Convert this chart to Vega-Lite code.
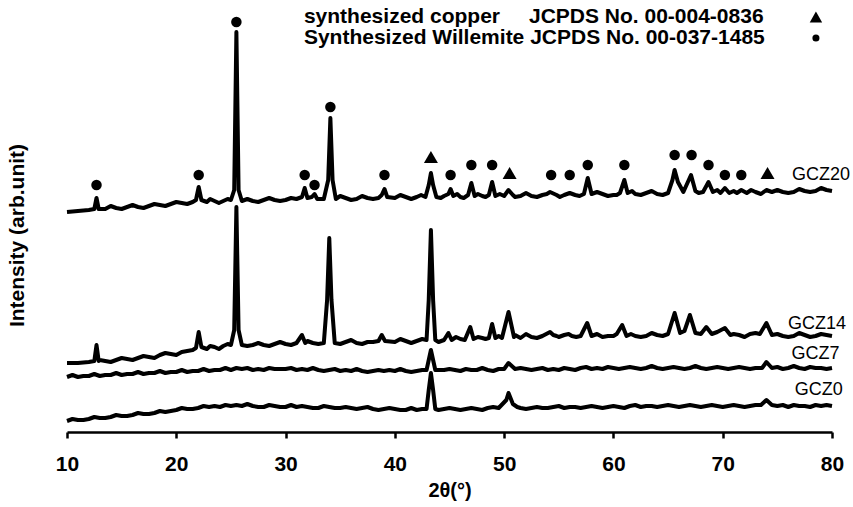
{
  "$schema": "https://vega.github.io/schema/vega-lite/v6.json",
  "width": 765,
  "height": 432,
  "autosize": "none",
  "padding": {"left": 67, "top": 0, "right": 21, "bottom": 75},
  "config": {"view": {"stroke": null}, "font": "Liberation Sans"},
  "datasets": {
    "xrd": [
      {"s":"GCZ20","x":10,"y":220},{"s":"GCZ20","x":11,"y":221},{"s":"GCZ20","x":12,"y":222},{"s":"GCZ20","x":12.5,"y":223},{"s":"GCZ20","x":12.7,"y":234},{"s":"GCZ20","x":12.9,"y":223},{"s":"GCZ20","x":13.5,"y":223},{"s":"GCZ20","x":14.5,"y":224},{"s":"GCZ20","x":15.5,"y":225},{"s":"GCZ20","x":16.5,"y":225},{"s":"GCZ20","x":17.5,"y":226},{"s":"GCZ20","x":18.5,"y":227},{"s":"GCZ20","x":19.5,"y":228},{"s":"GCZ20","x":20.5,"y":229},{"s":"GCZ20","x":21.5,"y":230},{"s":"GCZ20","x":21.8,"y":232},{"s":"GCZ20","x":22.05,"y":245},{"s":"GCZ20","x":22.3,"y":232},{"s":"GCZ20","x":22.8,"y":230},{"s":"GCZ20","x":23.5,"y":231},{"s":"GCZ20","x":24.3,"y":231},{"s":"GCZ20","x":25,"y":232},{"s":"GCZ20","x":25.3,"y":242},{"s":"GCZ20","x":25.5,"y":400},{"s":"GCZ20","x":25.7,"y":242},{"s":"GCZ20","x":26,"y":231},{"s":"GCZ20","x":27,"y":231},{"s":"GCZ20","x":28,"y":232},{"s":"GCZ20","x":29,"y":232},{"s":"GCZ20","x":30,"y":232},{"s":"GCZ20","x":31,"y":233},{"s":"GCZ20","x":31.5,"y":235},{"s":"GCZ20","x":31.75,"y":244},{"s":"GCZ20","x":32.0,"y":234},{"s":"GCZ20","x":32.4,"y":235},{"s":"GCZ20","x":32.65,"y":238},{"s":"GCZ20","x":32.9,"y":233},{"s":"GCZ20","x":33.5,"y":233},{"s":"GCZ20","x":33.9,"y":252},{"s":"GCZ20","x":34.1,"y":314},{"s":"GCZ20","x":34.3,"y":252},{"s":"GCZ20","x":34.6,"y":233},{"s":"GCZ20","x":35.5,"y":234},{"s":"GCZ20","x":36.5,"y":233},{"s":"GCZ20","x":37.5,"y":234},{"s":"GCZ20","x":38.5,"y":234},{"s":"GCZ20","x":38.8,"y":237},{"s":"GCZ20","x":39.05,"y":243},{"s":"GCZ20","x":39.3,"y":235},{"s":"GCZ20","x":40,"y":234},{"s":"GCZ20","x":41,"y":235},{"s":"GCZ20","x":42,"y":235},{"s":"GCZ20","x":42.8,"y":235},{"s":"GCZ20","x":43.1,"y":247},{"s":"GCZ20","x":43.3,"y":259},{"s":"GCZ20","x":43.5,"y":247},{"s":"GCZ20","x":43.8,"y":235},{"s":"GCZ20","x":44.5,"y":236},{"s":"GCZ20","x":44.9,"y":238},{"s":"GCZ20","x":45.1,"y":243},{"s":"GCZ20","x":45.35,"y":236},{"s":"GCZ20","x":46,"y":235},{"s":"GCZ20","x":46.7,"y":237},{"s":"GCZ20","x":47.0,"y":249},{"s":"GCZ20","x":47.3,"y":236},{"s":"GCZ20","x":48,"y":236},{"s":"GCZ20","x":48.6,"y":237},{"s":"GCZ20","x":48.9,"y":250},{"s":"GCZ20","x":49.2,"y":236},{"s":"GCZ20","x":50,"y":236},{"s":"GCZ20","x":50.4,"y":242},{"s":"GCZ20","x":50.8,"y":237},{"s":"GCZ20","x":51.5,"y":236},{"s":"GCZ20","x":52.5,"y":236},{"s":"GCZ20","x":53.5,"y":237},{"s":"GCZ20","x":54.2,"y":240},{"s":"GCZ20","x":54.8,"y":237},{"s":"GCZ20","x":55.5,"y":237},{"s":"GCZ20","x":56,"y":239},{"s":"GCZ20","x":56.5,"y":237},{"s":"GCZ20","x":57.3,"y":238},{"s":"GCZ20","x":57.65,"y":254},{"s":"GCZ20","x":58,"y":238},{"s":"GCZ20","x":59,"y":238},{"s":"GCZ20","x":60,"y":237},{"s":"GCZ20","x":60.6,"y":239},{"s":"GCZ20","x":61,"y":252},{"s":"GCZ20","x":61.3,"y":239},{"s":"GCZ20","x":62,"y":238},{"s":"GCZ20","x":63,"y":239},{"s":"GCZ20","x":64,"y":238},{"s":"GCZ20","x":65,"y":239},{"s":"GCZ20","x":65.4,"y":252},{"s":"GCZ20","x":65.6,"y":262},{"s":"GCZ20","x":65.9,"y":250},{"s":"GCZ20","x":66.4,"y":240},{"s":"GCZ20","x":67.1,"y":257},{"s":"GCZ20","x":67.5,"y":241},{"s":"GCZ20","x":68.2,"y":240},{"s":"GCZ20","x":68.7,"y":250},{"s":"GCZ20","x":69.1,"y":240},{"s":"GCZ20","x":69.8,"y":239},{"s":"GCZ20","x":70.2,"y":244},{"s":"GCZ20","x":70.6,"y":239},{"s":"GCZ20","x":71.3,"y":239},{"s":"GCZ20","x":71.7,"y":242},{"s":"GCZ20","x":72.2,"y":239},{"s":"GCZ20","x":73,"y":240},{"s":"GCZ20","x":74,"y":242},{"s":"GCZ20","x":74.5,"y":240},{"s":"GCZ20","x":75.5,"y":240},{"s":"GCZ20","x":76.5,"y":240},{"s":"GCZ20","x":77.5,"y":241},{"s":"GCZ20","x":78.5,"y":241},{"s":"GCZ20","x":79.5,"y":242},{"s":"GCZ20","x":80,"y":241},
      {"s":"GCZ20","x":14,"y":226},{"s":"GCZ20","x":15,"y":223},{"s":"GCZ20","x":16,"y":227},{"s":"GCZ20","x":17,"y":224},{"s":"GCZ20","x":18,"y":228},{"s":"GCZ20","x":19,"y":226},{"s":"GCZ20","x":20,"y":230},{"s":"GCZ20","x":21,"y":228},{"s":"GCZ20","x":23.1,"y":233},{"s":"GCZ20","x":23.9,"y":229},{"s":"GCZ20","x":24.7,"y":233},{"s":"GCZ20","x":26.5,"y":233},{"s":"GCZ20","x":27.5,"y":230},{"s":"GCZ20","x":28.5,"y":234},{"s":"GCZ20","x":29.5,"y":231},{"s":"GCZ20","x":30.5,"y":234},{"s":"GCZ20","x":35,"y":236},{"s":"GCZ20","x":36,"y":232},{"s":"GCZ20","x":37,"y":236},{"s":"GCZ20","x":38,"y":233},{"s":"GCZ20","x":40.5,"y":237},{"s":"GCZ20","x":41.5,"y":233},{"s":"GCZ20","x":42.4,"y":237},{"s":"GCZ20","x":44.2,"y":234},{"s":"GCZ20","x":45.7,"y":238},{"s":"GCZ20","x":46.3,"y":234},{"s":"GCZ20","x":47.6,"y":238},{"s":"GCZ20","x":48.3,"y":235},{"s":"GCZ20","x":49.6,"y":238},{"s":"GCZ20","x":51,"y":235},{"s":"GCZ20","x":52,"y":239},{"s":"GCZ20","x":53,"y":235},{"s":"GCZ20","x":53.9,"y":238},{"s":"GCZ20","x":55.1,"y":235},{"s":"GCZ20","x":56.9,"y":236},{"s":"GCZ20","x":58.5,"y":240},{"s":"GCZ20","x":59.5,"y":236},{"s":"GCZ20","x":60.3,"y":237},{"s":"GCZ20","x":61.7,"y":241},{"s":"GCZ20","x":62.5,"y":237},{"s":"GCZ20","x":63.5,"y":241},{"s":"GCZ20","x":64.5,"y":237},{"s":"GCZ20","x":67.8,"y":239},{"s":"GCZ20","x":69.5,"y":242},{"s":"GCZ20","x":71,"y":241},{"s":"GCZ20","x":72.6,"y":242},{"s":"GCZ20","x":73.5,"y":238},{"s":"GCZ20","x":75,"y":242},{"s":"GCZ20","x":76,"y":239},{"s":"GCZ20","x":77,"y":243},{"s":"GCZ20","x":78,"y":240},{"s":"GCZ20","x":79,"y":244},

      {"s":"GCZ14","x":10,"y":69},{"s":"GCZ14","x":11,"y":69},{"s":"GCZ14","x":12,"y":70},{"s":"GCZ14","x":12.5,"y":71},{"s":"GCZ14","x":12.7,"y":87},{"s":"GCZ14","x":12.9,"y":71},{"s":"GCZ14","x":13.5,"y":71},{"s":"GCZ14","x":14.5,"y":72},{"s":"GCZ14","x":15.5,"y":73},{"s":"GCZ14","x":16.5,"y":74},{"s":"GCZ14","x":17.5,"y":75},{"s":"GCZ14","x":18.5,"y":77},{"s":"GCZ14","x":19.5,"y":78},{"s":"GCZ14","x":20.5,"y":80},{"s":"GCZ14","x":21.5,"y":82},{"s":"GCZ14","x":21.8,"y":84},{"s":"GCZ14","x":22.05,"y":100},{"s":"GCZ14","x":22.3,"y":85},{"s":"GCZ14","x":22.8,"y":83},{"s":"GCZ14","x":23.5,"y":85},{"s":"GCZ14","x":24.3,"y":86},{"s":"GCZ14","x":25,"y":87},{"s":"GCZ14","x":25.3,"y":102},{"s":"GCZ14","x":25.5,"y":225},{"s":"GCZ14","x":25.7,"y":102},{"s":"GCZ14","x":26,"y":87},{"s":"GCZ14","x":27,"y":87},{"s":"GCZ14","x":28,"y":87},{"s":"GCZ14","x":29,"y":88},{"s":"GCZ14","x":30,"y":88},{"s":"GCZ14","x":31,"y":89},{"s":"GCZ14","x":31.5,"y":97},{"s":"GCZ14","x":31.8,"y":89},{"s":"GCZ14","x":32.5,"y":89},{"s":"GCZ14","x":33.5,"y":89},{"s":"GCZ14","x":33.8,"y":132},{"s":"GCZ14","x":34.0,"y":194},{"s":"GCZ14","x":34.2,"y":132},{"s":"GCZ14","x":34.5,"y":89},{"s":"GCZ14","x":35.5,"y":90},{"s":"GCZ14","x":36.5,"y":89},{"s":"GCZ14","x":37.5,"y":90},{"s":"GCZ14","x":38.5,"y":91},{"s":"GCZ14","x":38.8,"y":97},{"s":"GCZ14","x":39.1,"y":91},{"s":"GCZ14","x":40,"y":90},{"s":"GCZ14","x":41,"y":91},{"s":"GCZ14","x":42,"y":91},{"s":"GCZ14","x":42.9,"y":92},{"s":"GCZ14","x":43.1,"y":132},{"s":"GCZ14","x":43.3,"y":202},{"s":"GCZ14","x":43.5,"y":132},{"s":"GCZ14","x":43.7,"y":92},{"s":"GCZ14","x":44.5,"y":92},{"s":"GCZ14","x":44.9,"y":99},{"s":"GCZ14","x":45.2,"y":92},{"s":"GCZ14","x":46,"y":93},{"s":"GCZ14","x":46.9,"y":105},{"s":"GCZ14","x":47.2,"y":93},{"s":"GCZ14","x":48,"y":94},{"s":"GCZ14","x":48.6,"y":94},{"s":"GCZ14","x":48.9,"y":108},{"s":"GCZ14","x":49.2,"y":94},{"s":"GCZ14","x":49.8,"y":94},{"s":"GCZ14","x":50.4,"y":120},{"s":"GCZ14","x":50.9,"y":95},{"s":"GCZ14","x":51.5,"y":94},{"s":"GCZ14","x":52,"y":98},{"s":"GCZ14","x":52.5,"y":95},{"s":"GCZ14","x":53.5,"y":96},{"s":"GCZ14","x":54.2,"y":100},{"s":"GCZ14","x":54.8,"y":96},{"s":"GCZ14","x":55.5,"y":97},{"s":"GCZ14","x":56.2,"y":96},{"s":"GCZ14","x":57,"y":96},{"s":"GCZ14","x":57.6,"y":109},{"s":"GCZ14","x":58,"y":96},{"s":"GCZ14","x":59,"y":95},{"s":"GCZ14","x":60,"y":96},{"s":"GCZ14","x":60.8,"y":107},{"s":"GCZ14","x":61.2,"y":96},{"s":"GCZ14","x":62,"y":96},{"s":"GCZ14","x":63,"y":96},{"s":"GCZ14","x":64,"y":97},{"s":"GCZ14","x":65,"y":98},{"s":"GCZ14","x":65.6,"y":119},{"s":"GCZ14","x":66.1,"y":99},{"s":"GCZ14","x":67,"y":117},{"s":"GCZ14","x":67.5,"y":99},{"s":"GCZ14","x":68.5,"y":105},{"s":"GCZ14","x":69,"y":98},{"s":"GCZ14","x":70.2,"y":104},{"s":"GCZ14","x":70.7,"y":97},{"s":"GCZ14","x":71.5,"y":97},{"s":"GCZ14","x":72.5,"y":98},{"s":"GCZ14","x":73.4,"y":98},{"s":"GCZ14","x":74,"y":109},{"s":"GCZ14","x":74.5,"y":97},{"s":"GCZ14","x":75.5,"y":96},{"s":"GCZ14","x":76.5,"y":96},{"s":"GCZ14","x":77.5,"y":97},{"s":"GCZ14","x":78.5,"y":96},{"s":"GCZ14","x":79.5,"y":97},{"s":"GCZ14","x":80,"y":96},
      {"s":"GCZ14","x":13,"y":72},{"s":"GCZ14","x":14,"y":70},{"s":"GCZ14","x":15,"y":74},{"s":"GCZ14","x":16,"y":72},{"s":"GCZ14","x":17,"y":76},{"s":"GCZ14","x":18,"y":74},{"s":"GCZ14","x":19,"y":79},{"s":"GCZ14","x":20,"y":77},{"s":"GCZ14","x":21,"y":81},{"s":"GCZ14","x":23.1,"y":86},{"s":"GCZ14","x":23.9,"y":83},{"s":"GCZ14","x":24.7,"y":88},{"s":"GCZ14","x":26.5,"y":86},{"s":"GCZ14","x":27.5,"y":89},{"s":"GCZ14","x":28.5,"y":86},{"s":"GCZ14","x":29.5,"y":90},{"s":"GCZ14","x":30.5,"y":87},{"s":"GCZ14","x":32,"y":91},{"s":"GCZ14","x":33,"y":88},{"s":"GCZ14","x":35,"y":88},{"s":"GCZ14","x":36,"y":92},{"s":"GCZ14","x":37,"y":88},{"s":"GCZ14","x":38,"y":90},{"s":"GCZ14","x":40.5,"y":93},{"s":"GCZ14","x":41.5,"y":89},{"s":"GCZ14","x":42.5,"y":93},{"s":"GCZ14","x":44,"y":90},{"s":"GCZ14","x":45.6,"y":95},{"s":"GCZ14","x":46.4,"y":92},{"s":"GCZ14","x":47.6,"y":95},{"s":"GCZ14","x":48.3,"y":93},{"s":"GCZ14","x":49.5,"y":96},{"s":"GCZ14","x":51,"y":97},{"s":"GCZ14","x":53,"y":94},{"s":"GCZ14","x":54.5,"y":97},{"s":"GCZ14","x":55,"y":95},{"s":"GCZ14","x":55.9,"y":98},{"s":"GCZ14","x":56.6,"y":95},{"s":"GCZ14","x":58.5,"y":98},{"s":"GCZ14","x":59.5,"y":96},{"s":"GCZ14","x":60.3,"y":98},{"s":"GCZ14","x":61.6,"y":98},{"s":"GCZ14","x":62.5,"y":95},{"s":"GCZ14","x":63.5,"y":99},{"s":"GCZ14","x":64.5,"y":96},{"s":"GCZ14","x":66.5,"y":101},{"s":"GCZ14","x":68,"y":98},{"s":"GCZ14","x":69.5,"y":100},{"s":"GCZ14","x":71,"y":98},{"s":"GCZ14","x":72,"y":95},{"s":"GCZ14","x":73,"y":99},{"s":"GCZ14","x":75,"y":98},{"s":"GCZ14","x":76,"y":95},{"s":"GCZ14","x":77,"y":99},{"s":"GCZ14","x":78,"y":95},{"s":"GCZ14","x":79,"y":98},

      {"s":"GCZ7","x":10,"y":55},{"s":"GCZ7","x":10.5,"y":57},{"s":"GCZ7","x":11,"y":55},{"s":"GCZ7","x":11.5,"y":56},{"s":"GCZ7","x":12,"y":56},{"s":"GCZ7","x":12.5,"y":58},{"s":"GCZ7","x":13,"y":56},{"s":"GCZ7","x":13.5,"y":57},{"s":"GCZ7","x":14,"y":57},{"s":"GCZ7","x":14.5,"y":59},{"s":"GCZ7","x":15,"y":57},{"s":"GCZ7","x":15.5,"y":58},{"s":"GCZ7","x":16,"y":58},{"s":"GCZ7","x":16.5,"y":60},{"s":"GCZ7","x":17,"y":58},{"s":"GCZ7","x":17.5,"y":59},{"s":"GCZ7","x":18,"y":59},{"s":"GCZ7","x":18.5,"y":61},{"s":"GCZ7","x":19,"y":59},{"s":"GCZ7","x":19.5,"y":60},{"s":"GCZ7","x":20,"y":60},{"s":"GCZ7","x":20.5,"y":62},{"s":"GCZ7","x":21,"y":60},{"s":"GCZ7","x":21.5,"y":61},{"s":"GCZ7","x":22,"y":61},{"s":"GCZ7","x":22.5,"y":63},{"s":"GCZ7","x":23,"y":61},{"s":"GCZ7","x":23.5,"y":62},{"s":"GCZ7","x":24,"y":62},{"s":"GCZ7","x":24.5,"y":64},{"s":"GCZ7","x":25,"y":62},{"s":"GCZ7","x":25.5,"y":64},{"s":"GCZ7","x":26,"y":63},{"s":"GCZ7","x":26.5,"y":64},{"s":"GCZ7","x":27,"y":62},{"s":"GCZ7","x":27.5,"y":63},{"s":"GCZ7","x":28,"y":62},{"s":"GCZ7","x":28.5,"y":64},{"s":"GCZ7","x":29,"y":63},{"s":"GCZ7","x":29.5,"y":63},{"s":"GCZ7","x":30,"y":63},{"s":"GCZ7","x":30.5,"y":64},{"s":"GCZ7","x":31,"y":62},{"s":"GCZ7","x":31.5,"y":63},{"s":"GCZ7","x":32,"y":62},{"s":"GCZ7","x":32.5,"y":64},{"s":"GCZ7","x":33,"y":62},{"s":"GCZ7","x":33.5,"y":61},{"s":"GCZ7","x":34,"y":62},{"s":"GCZ7","x":34.5,"y":63},{"s":"GCZ7","x":35,"y":61},{"s":"GCZ7","x":35.5,"y":62},{"s":"GCZ7","x":36,"y":61},{"s":"GCZ7","x":36.5,"y":63},{"s":"GCZ7","x":37,"y":61},{"s":"GCZ7","x":37.5,"y":60},{"s":"GCZ7","x":38,"y":61},{"s":"GCZ7","x":38.5,"y":62},{"s":"GCZ7","x":39,"y":61},{"s":"GCZ7","x":39.5,"y":62},{"s":"GCZ7","x":40,"y":61},{"s":"GCZ7","x":40.5,"y":63},{"s":"GCZ7","x":41,"y":61},{"s":"GCZ7","x":41.5,"y":60},{"s":"GCZ7","x":42,"y":61},{"s":"GCZ7","x":42.5,"y":62},{"s":"GCZ7","x":42.9,"y":62},{"s":"GCZ7","x":43.1,"y":72},{"s":"GCZ7","x":43.3,"y":82},{"s":"GCZ7","x":43.5,"y":72},{"s":"GCZ7","x":43.7,"y":62},{"s":"GCZ7","x":44.5,"y":62},{"s":"GCZ7","x":45,"y":63},{"s":"GCZ7","x":45.5,"y":62},{"s":"GCZ7","x":46,"y":61},{"s":"GCZ7","x":46.5,"y":63},{"s":"GCZ7","x":47,"y":62},{"s":"GCZ7","x":47.5,"y":62},{"s":"GCZ7","x":48,"y":64},{"s":"GCZ7","x":48.5,"y":62},{"s":"GCZ7","x":49,"y":61},{"s":"GCZ7","x":49.5,"y":63},{"s":"GCZ7","x":50,"y":63},{"s":"GCZ7","x":50.4,"y":69},{"s":"GCZ7","x":51,"y":63},{"s":"GCZ7","x":51.5,"y":64},{"s":"GCZ7","x":52,"y":63},{"s":"GCZ7","x":52.5,"y":62},{"s":"GCZ7","x":53,"y":63},{"s":"GCZ7","x":53.5,"y":64},{"s":"GCZ7","x":54,"y":62},{"s":"GCZ7","x":54.5,"y":63},{"s":"GCZ7","x":55,"y":62},{"s":"GCZ7","x":55.5,"y":64},{"s":"GCZ7","x":56,"y":63},{"s":"GCZ7","x":56.5,"y":62},{"s":"GCZ7","x":57,"y":64},{"s":"GCZ7","x":57.5,"y":65},{"s":"GCZ7","x":58,"y":63},{"s":"GCZ7","x":58.5,"y":64},{"s":"GCZ7","x":59,"y":63},{"s":"GCZ7","x":59.5,"y":65},{"s":"GCZ7","x":60,"y":64},{"s":"GCZ7","x":60.5,"y":63},{"s":"GCZ7","x":61,"y":64},{"s":"GCZ7","x":61.5,"y":65},{"s":"GCZ7","x":62,"y":64},{"s":"GCZ7","x":62.5,"y":63},{"s":"GCZ7","x":63,"y":64},{"s":"GCZ7","x":63.5,"y":66},{"s":"GCZ7","x":64,"y":64},{"s":"GCZ7","x":64.5,"y":63},{"s":"GCZ7","x":65,"y":64},{"s":"GCZ7","x":65.5,"y":65},{"s":"GCZ7","x":66,"y":64},{"s":"GCZ7","x":66.5,"y":63},{"s":"GCZ7","x":67,"y":64},{"s":"GCZ7","x":67.5,"y":66},{"s":"GCZ7","x":68,"y":64},{"s":"GCZ7","x":68.5,"y":63},{"s":"GCZ7","x":69,"y":64},{"s":"GCZ7","x":69.5,"y":65},{"s":"GCZ7","x":70,"y":64},{"s":"GCZ7","x":70.5,"y":63},{"s":"GCZ7","x":71,"y":64},{"s":"GCZ7","x":71.5,"y":65},{"s":"GCZ7","x":72,"y":64},{"s":"GCZ7","x":72.5,"y":63},{"s":"GCZ7","x":73,"y":64},{"s":"GCZ7","x":73.6,"y":64},{"s":"GCZ7","x":74,"y":70},{"s":"GCZ7","x":74.5,"y":64},{"s":"GCZ7","x":75,"y":65},{"s":"GCZ7","x":75.5,"y":63},{"s":"GCZ7","x":76,"y":64},{"s":"GCZ7","x":76.5,"y":66},{"s":"GCZ7","x":77,"y":64},{"s":"GCZ7","x":77.5,"y":63},{"s":"GCZ7","x":78,"y":65},{"s":"GCZ7","x":78.5,"y":64},{"s":"GCZ7","x":79,"y":64},{"s":"GCZ7","x":79.5,"y":63},{"s":"GCZ7","x":80,"y":64},

      {"s":"GCZ0","x":10,"y":11},{"s":"GCZ0","x":10.5,"y":13},{"s":"GCZ0","x":11,"y":12},{"s":"GCZ0","x":11.5,"y":12},{"s":"GCZ0","x":12,"y":13},{"s":"GCZ0","x":12.5,"y":15},{"s":"GCZ0","x":13,"y":14},{"s":"GCZ0","x":13.5,"y":14},{"s":"GCZ0","x":14,"y":15},{"s":"GCZ0","x":14.5,"y":17},{"s":"GCZ0","x":15,"y":16},{"s":"GCZ0","x":15.5,"y":16},{"s":"GCZ0","x":16,"y":17},{"s":"GCZ0","x":16.5,"y":19},{"s":"GCZ0","x":17,"y":18},{"s":"GCZ0","x":17.5,"y":18},{"s":"GCZ0","x":18,"y":19},{"s":"GCZ0","x":18.5,"y":21},{"s":"GCZ0","x":19,"y":20},{"s":"GCZ0","x":19.5,"y":21},{"s":"GCZ0","x":20,"y":22},{"s":"GCZ0","x":20.5,"y":24},{"s":"GCZ0","x":21,"y":23},{"s":"GCZ0","x":21.5,"y":23},{"s":"GCZ0","x":22,"y":24},{"s":"GCZ0","x":22.5,"y":26},{"s":"GCZ0","x":23,"y":25},{"s":"GCZ0","x":23.5,"y":26},{"s":"GCZ0","x":24,"y":25},{"s":"GCZ0","x":24.5,"y":27},{"s":"GCZ0","x":25,"y":26},{"s":"GCZ0","x":25.5,"y":27},{"s":"GCZ0","x":26,"y":26},{"s":"GCZ0","x":26.5,"y":28},{"s":"GCZ0","x":27,"y":26},{"s":"GCZ0","x":27.5,"y":25},{"s":"GCZ0","x":28,"y":25},{"s":"GCZ0","x":28.5,"y":27},{"s":"GCZ0","x":29,"y":26},{"s":"GCZ0","x":29.5,"y":25},{"s":"GCZ0","x":30,"y":25},{"s":"GCZ0","x":30.5,"y":27},{"s":"GCZ0","x":31,"y":25},{"s":"GCZ0","x":31.5,"y":26},{"s":"GCZ0","x":32,"y":25},{"s":"GCZ0","x":32.5,"y":24},{"s":"GCZ0","x":33,"y":24},{"s":"GCZ0","x":33.5,"y":26},{"s":"GCZ0","x":34,"y":25},{"s":"GCZ0","x":34.5,"y":24},{"s":"GCZ0","x":35,"y":24},{"s":"GCZ0","x":35.5,"y":25},{"s":"GCZ0","x":36,"y":24},{"s":"GCZ0","x":36.5,"y":23},{"s":"GCZ0","x":37,"y":24},{"s":"GCZ0","x":37.5,"y":25},{"s":"GCZ0","x":38,"y":23},{"s":"GCZ0","x":38.5,"y":22},{"s":"GCZ0","x":39,"y":23},{"s":"GCZ0","x":39.5,"y":24},{"s":"GCZ0","x":40,"y":23},{"s":"GCZ0","x":40.5,"y":22},{"s":"GCZ0","x":41,"y":22},{"s":"GCZ0","x":41.5,"y":24},{"s":"GCZ0","x":42,"y":22},{"s":"GCZ0","x":42.5,"y":23},{"s":"GCZ0","x":42.9,"y":23},{"s":"GCZ0","x":43.1,"y":42},{"s":"GCZ0","x":43.3,"y":59},{"s":"GCZ0","x":43.5,"y":42},{"s":"GCZ0","x":43.7,"y":23},{"s":"GCZ0","x":44,"y":22},{"s":"GCZ0","x":44.5,"y":23},{"s":"GCZ0","x":45,"y":24},{"s":"GCZ0","x":45.5,"y":23},{"s":"GCZ0","x":46,"y":22},{"s":"GCZ0","x":46.5,"y":23},{"s":"GCZ0","x":47,"y":24},{"s":"GCZ0","x":47.5,"y":23},{"s":"GCZ0","x":48,"y":22},{"s":"GCZ0","x":48.5,"y":24},{"s":"GCZ0","x":49,"y":25},{"s":"GCZ0","x":49.5,"y":24},{"s":"GCZ0","x":50.2,"y":32},{"s":"GCZ0","x":50.4,"y":39},{"s":"GCZ0","x":50.8,"y":28},{"s":"GCZ0","x":51.2,"y":25},{"s":"GCZ0","x":51.5,"y":24},{"s":"GCZ0","x":52,"y":23},{"s":"GCZ0","x":52.5,"y":24},{"s":"GCZ0","x":53,"y":25},{"s":"GCZ0","x":53.5,"y":24},{"s":"GCZ0","x":54,"y":24},{"s":"GCZ0","x":54.5,"y":25},{"s":"GCZ0","x":55,"y":26},{"s":"GCZ0","x":55.5,"y":24},{"s":"GCZ0","x":56,"y":25},{"s":"GCZ0","x":56.5,"y":25},{"s":"GCZ0","x":57,"y":24},{"s":"GCZ0","x":57.5,"y":25},{"s":"GCZ0","x":58,"y":26},{"s":"GCZ0","x":58.5,"y":25},{"s":"GCZ0","x":59,"y":24},{"s":"GCZ0","x":59.5,"y":25},{"s":"GCZ0","x":60,"y":26},{"s":"GCZ0","x":60.5,"y":25},{"s":"GCZ0","x":61,"y":24},{"s":"GCZ0","x":61.5,"y":26},{"s":"GCZ0","x":62,"y":27},{"s":"GCZ0","x":62.5,"y":25},{"s":"GCZ0","x":63,"y":26},{"s":"GCZ0","x":63.5,"y":26},{"s":"GCZ0","x":64,"y":25},{"s":"GCZ0","x":64.5,"y":26},{"s":"GCZ0","x":65,"y":27},{"s":"GCZ0","x":65.5,"y":26},{"s":"GCZ0","x":66,"y":25},{"s":"GCZ0","x":66.5,"y":26},{"s":"GCZ0","x":67,"y":27},{"s":"GCZ0","x":67.5,"y":26},{"s":"GCZ0","x":68,"y":25},{"s":"GCZ0","x":68.5,"y":26},{"s":"GCZ0","x":69,"y":27},{"s":"GCZ0","x":69.5,"y":26},{"s":"GCZ0","x":70,"y":25},{"s":"GCZ0","x":70.5,"y":26},{"s":"GCZ0","x":71,"y":27},{"s":"GCZ0","x":71.5,"y":26},{"s":"GCZ0","x":72,"y":25},{"s":"GCZ0","x":72.5,"y":26},{"s":"GCZ0","x":73,"y":27},{"s":"GCZ0","x":73.5,"y":27},{"s":"GCZ0","x":74,"y":32},{"s":"GCZ0","x":74.5,"y":27},{"s":"GCZ0","x":75,"y":26},{"s":"GCZ0","x":75.5,"y":27},{"s":"GCZ0","x":76,"y":25},{"s":"GCZ0","x":76.5,"y":27},{"s":"GCZ0","x":77,"y":26},{"s":"GCZ0","x":77.5,"y":26},{"s":"GCZ0","x":78,"y":25},{"s":"GCZ0","x":78.5,"y":27},{"s":"GCZ0","x":79,"y":26},{"s":"GCZ0","x":79.5,"y":27},{"s":"GCZ0","x":80,"y":26}
    ],
    "markers": [
      {"phase":"Willemite","x":12.7,"y":247},{"phase":"Willemite","x":22.05,"y":257},{"phase":"Willemite","x":25.5,"y":410},{"phase":"Willemite","x":31.75,"y":257},{"phase":"Willemite","x":32.65,"y":247},{"phase":"Willemite","x":34.1,"y":325},{"phase":"Willemite","x":39.05,"y":257},{"phase":"Willemite","x":45.1,"y":257},{"phase":"Willemite","x":47.0,"y":267},{"phase":"Willemite","x":48.9,"y":267},{"phase":"Willemite","x":54.3,"y":257},{"phase":"Willemite","x":56.0,"y":257},{"phase":"Willemite","x":57.65,"y":267},{"phase":"Willemite","x":61.0,"y":267},{"phase":"Willemite","x":65.6,"y":277},{"phase":"Willemite","x":67.15,"y":277},{"phase":"Willemite","x":68.7,"y":267},{"phase":"Willemite","x":70.2,"y":257},{"phase":"Willemite","x":71.7,"y":257},
      {"phase":"copper","x":43.3,"y":275},{"phase":"copper","x":50.5,"y":259},{"phase":"copper","x":74.1,"y":259}
    ],
    "labels": [
      {"t":"GCZ20","x":76.33,"y":257},{"t":"GCZ14","x":75.97,"y":108},{"t":"GCZ7","x":76.3,"y":78},{"t":"GCZ0","x":76.6,"y":42}
    ],
    "legendText": [
      {"t":"synthesized copper","x":31.68,"y":415},{"t":"JCPDS No. 00-004-0836","x":52.27,"y":415},{"t":"Synthesized Willemite JCPDS No. 00-037-1485","x":31.68,"y":394}
    ],
    "legendSym": [
      {"phase":"copper","x":78.53,"y":415},{"phase":"Willemite","x":78.53,"y":394}
    ]
  },
  "encoding": {
    "x": {"field":"x","type":"quantitative","scale":{"domain":[10,80],"nice":false,"zero":false},
      "axis":{"values":[10,20,30,40,50,60,70,80],"grid":false,"domainColor":"black","domainWidth":2.5,"tickColor":"black","tickWidth":2.5,"tickSize":6,"labelFont":"Liberation Sans","labelFontWeight":"bold","labelFontSize":21,"labelColor":"black","labelPadding":15,"labelFlush":false,"title":"2θ(°)","titleFont":"Liberation Sans","titleFontSize":20,"titleFontWeight":"bold","titleColor":"black","titlePadding":6}},
    "y": {"field":"y","type":"quantitative","scale":{"domain":[0,432],"nice":false,"zero":false},
      "axis":{"domain":false,"ticks":false,"labels":false,"grid":false,"title":"Intensity (arb.unit)","titleFont":"Liberation Sans","titleFontSize":21,"titleFontWeight":"bold","titleColor":"black","titleX":-40,"titleY":235,"titleAngle":-90,"titleAlign":"center","titleBaseline":"bottom"}}
  },
  "layer": [
    {"data":{"name":"xrd"},"mark":{"type":"line","color":"black","strokeWidth":4,"strokeJoin":"round"},"encoding":{"detail":{"field":"s"}}},
    {"data":{"name":"markers"},"mark":{"type":"point","filled":true,"color":"black","opacity":1},
      "encoding":{"shape":{"field":"phase","type":"nominal","scale":{"domain":["Willemite","copper"],"range":["circle","triangle-up"]},"legend":null},
        "size":{"field":"phase","type":"nominal","scale":{"domain":["Willemite","copper"],"range":[110,196]},"legend":null}}},
    {"data":{"name":"legendSym"},"mark":{"type":"point","filled":true,"color":"black","opacity":1},
      "encoding":{"shape":{"field":"phase","type":"nominal","scale":{"domain":["Willemite","copper"],"range":["circle","triangle-up"]},"legend":null},
        "size":{"field":"phase","type":"nominal","scale":{"domain":["Willemite","copper"],"range":[50,155]},"legend":null}}},
    {"data":{"name":"labels"},"mark":{"type":"text","align":"left","baseline":"middle","font":"Liberation Sans","fontSize":18,"color":"black"},"encoding":{"text":{"field":"t"}}},
    {"data":{"name":"legendText"},"mark":{"type":"text","align":"left","baseline":"middle","font":"Liberation Sans","fontSize":21,"fontWeight":"bold","color":"black"},"encoding":{"text":{"field":"t"}}}
  ],
  "resolve": {"scale": {"shape":"independent","size":"independent"}}
}
